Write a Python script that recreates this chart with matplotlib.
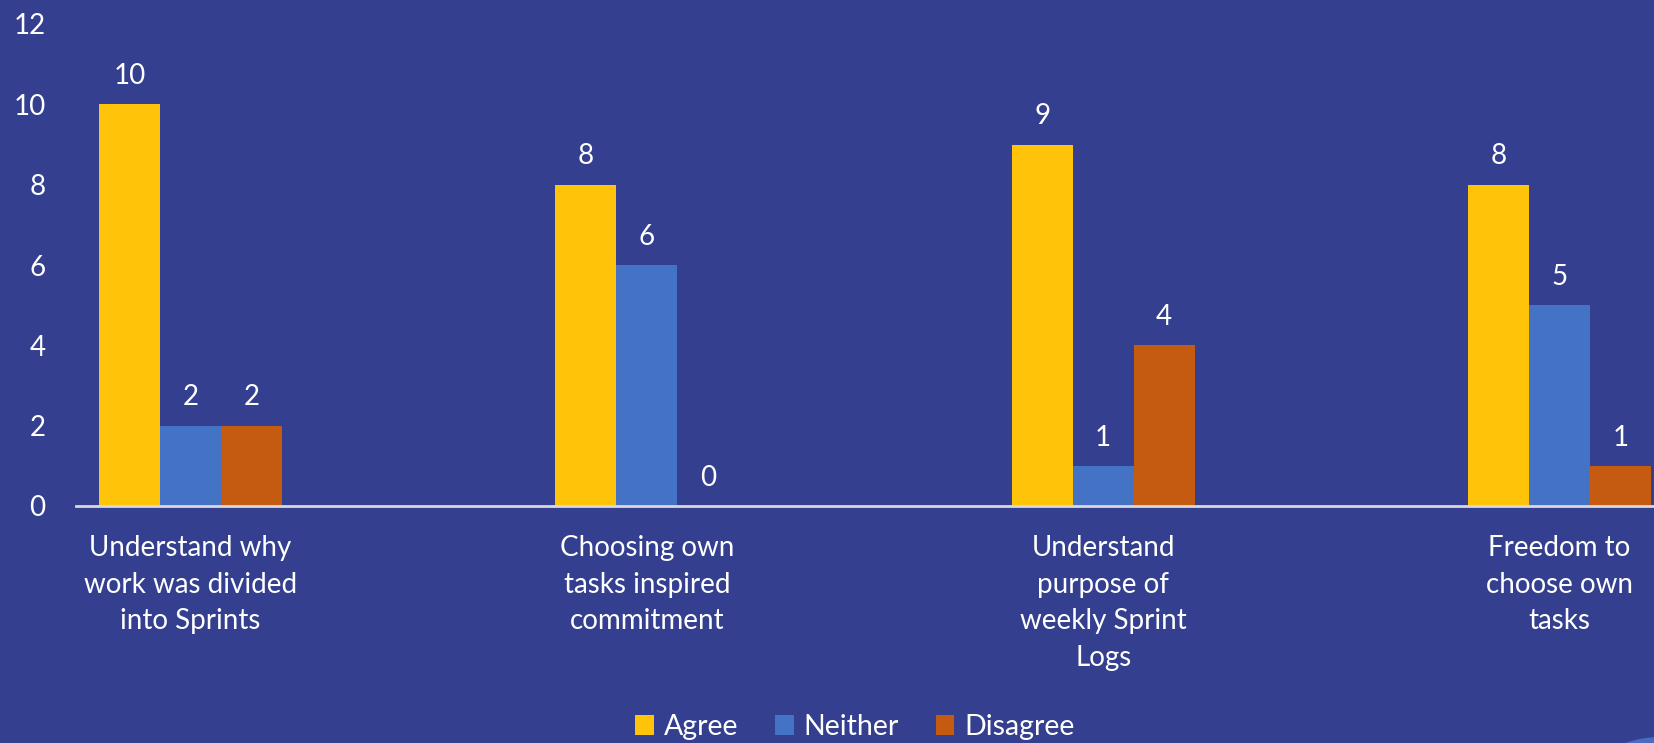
import numpy as np
import matplotlib.pyplot as plt
from matplotlib.patches import Circle

categories = ['Understand why\nwork was divided\ninto Sprints',
              'Choosing own\ntasks inspired\ncommitment',
              'Understand\npurpose of\nweekly Sprint\nLogs',
              'Freedom to\nchoose own\ntasks']
agree = [10, 8, 9, 8]
neither = [2, 6, 1, 5]
disagree = [2, 0, 4, 1]
series = ['Agree', 'Neither', 'Disagree']

bg = '#343f8f'
colors = ['#ffc409', '#4472c4', '#c55a11']

plt.rcParams['font.family'] = ['Lato', 'DejaVu Sans']

fig = plt.figure(figsize=(16.54, 7.43), dpi=100, facecolor=bg)
ax = fig.add_axes([76/1654, 1 - 506/743, 1 - 76/1654, (506 - 24)/743])
ax.set_facecolor(bg)

x = np.arange(len(categories))
w = 0.1337
for i, (vals, name) in enumerate(zip([agree, neither, disagree], series)):
    pos = x + (i - 1) * w
    bars = ax.bar(pos, vals, width=w, color=colors[i], label=name, zorder=2)
    for b, v in zip(bars, vals):
        ax.annotate(str(v), (b.get_x() + b.get_width()/2, v),
                    xytext=(0, 11), textcoords='offset points',
                    ha='center', va='bottom', color='white', fontsize=20)

ax.set_xlim(-0.251, 3.207)
ax.set_ylim(0, 12)
ax.set_yticks(range(0, 13, 2))
ax.set_xticks(x)
ax.set_xticklabels(categories, linespacing=1.5, va='top', fontsize=20.8)
ax.tick_params(axis='both', length=0, colors='white', labelsize=20)
ax.tick_params(axis='x', pad=21)
ax.tick_params(axis='y', pad=22)
for s in ['top', 'right', 'left']:
    ax.spines[s].set_visible(False)
ax.spines['bottom'].set_color('#d9d9d9')
ax.spines['bottom'].set_linewidth(2)

leg = fig.legend(loc='center', bbox_to_anchor=(855/1654, 1 - 727/743), ncol=3,
                 frameon=False, fontsize=20.5, labelcolor='white',
                 handlelength=0.65, handleheight=0.65, handletextpad=0.35,
                 columnspacing=1.3)

# small decorative shape in the lower right corner
fig.patches.append(Circle((1660/1654, 1 - 760/743), 0.03, transform=fig.transFigure,
                          color='#4a6bc0', zorder=0))

fig.savefig('out.png', dpi=100, facecolor=bg)
plt.close(fig)
